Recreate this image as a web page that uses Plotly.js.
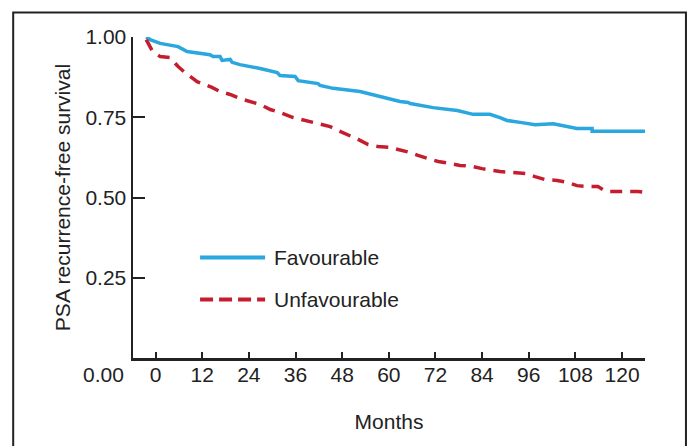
<!DOCTYPE html>
<html>
<head>
<meta charset="utf-8">
<script src="https://cdn.plot.ly/plotly-3.0.1.min.js"></script>
<style>html,body{margin:0;padding:0;background:#fff;}#chart{width:690px;height:446px;}</style>
</head>
<body>
<div id="chart"></div>
<script>
// Favourable group (months, PSA recurrence-free survival)
const favMonths = [-2.4, -1.4, 1.2, 5.8, 8.1, 14.0, 14.8, 16.6, 17.1, 19.2, 19.7, 21.7, 26.9, 31.3, 32.0, 35.9, 36.7, 41.8, 42.3, 45.7, 52.6, 57.7, 62.9, 65.0, 65.5, 71.4, 77.6, 81.7, 86.0, 88.6, 90.4, 93.8, 97.6, 102.3, 108.4, 112.3, 112.3, 125.9];
const favSurv   = [1.000, 0.992, 0.980, 0.970, 0.955, 0.945, 0.939, 0.939, 0.927, 0.930, 0.921, 0.914, 0.902, 0.889, 0.880, 0.877, 0.864, 0.855, 0.849, 0.840, 0.830, 0.815, 0.799, 0.796, 0.793, 0.780, 0.771, 0.759, 0.759, 0.749, 0.740, 0.734, 0.727, 0.730, 0.715, 0.715, 0.706, 0.706];
// Unfavourable group
const unfMonths = [-2.4, -0.9, 1.2, 3.7, 5.8, 7.6, 10.7, 14.5, 16.6, 19.2, 21.7, 24.3, 26.9, 29.5, 32.0, 35.4, 39.2, 41.8, 44.9, 46.9, 50.0, 52.1, 54.7, 57.2, 60.3, 62.4, 65.5, 67.5, 70.6, 72.7, 75.8, 78.3, 81.4, 84.0, 88.6, 92.5, 95.1, 97.6, 100.2, 103.3, 105.9, 108.4, 111.0, 113.8, 114.9, 115.9, 121.3, 124.1, 125.9];
const unfSurv   = [0.992, 0.958, 0.939, 0.936, 0.908, 0.889, 0.861, 0.843, 0.830, 0.821, 0.808, 0.799, 0.790, 0.774, 0.765, 0.749, 0.737, 0.731, 0.721, 0.709, 0.693, 0.681, 0.665, 0.659, 0.656, 0.650, 0.640, 0.631, 0.621, 0.612, 0.606, 0.600, 0.597, 0.590, 0.581, 0.578, 0.575, 0.565, 0.556, 0.553, 0.547, 0.537, 0.534, 0.534, 0.525, 0.519, 0.519, 0.519, 0.516];

const xTickVals = [0, 12, 24, 36, 48, 60, 72, 84, 96, 108, 120];
const yTickVals = [0.25, 0.50, 0.75, 1.00];
const yTickText = ['0.25', '0.50', '0.75', '1.00'];
const seriesNames = ['Favourable', 'Unfavourable'];

const BLUE = '#2aa7df', RED = '#c41e2e', INK = '#222222';
const FONT = 'Liberation Sans, Arial, sans-serif';
const FS = 21;

const traces = [
  {x: favMonths, y: favSurv, mode: 'lines', name: seriesNames[0], showlegend: false,
   line: {color: BLUE, width: 3.5}, cliponaxis: false, hoverinfo: 'skip'},
  {x: unfMonths, y: unfSurv, mode: 'lines', name: seriesNames[1], showlegend: false,
   line: {color: RED, width: 3.5, dash: '12px,8px'}, cliponaxis: false, hoverinfo: 'skip'}
];

const layout = {
  width: 690, height: 446,
  margin: {l: 133, r: 45, t: 37, b: 88},
  paper_bgcolor: '#fff', plot_bgcolor: '#fff',
  font: {family: FONT, size: FS, color: INK},
  xaxis: {
    range: [-5.8, 125.9], tickvals: xTickVals, ticktext: xTickVals.map(String),
    showgrid: false, zeroline: false, showline: true, linecolor: INK, linewidth: 2.5,
    ticks: 'inside', ticklen: 6, tickwidth: 2, tickcolor: INK,
    tickfont: {family: FONT, size: FS, color: INK}, ticklabelstandoff: -4,
    title: {text: 'Months', font: {family: FONT, size: FS, color: INK}, standoff: 30}
  },
  yaxis: {
    range: [0, 1], tickvals: yTickVals, ticktext: yTickText,
    showgrid: false, zeroline: false, showline: true, linecolor: INK, linewidth: 2.5,
    ticks: 'inside', ticklen: 12, tickwidth: 2, tickcolor: INK,
    tickfont: {family: FONT, size: FS, color: INK},
    title: {text: 'PSA recurrence-free survival', font: {family: FONT, size: FS, color: INK}, standoff: 9}
  },
  shapes: [
    {type: 'rect', xref: 'paper', yref: 'paper', x0: -0.234, x1: 1.080, y0: -0.34, y1: 1.076,
     line: {color: INK, width: 2}, fillcolor: 'rgba(0,0,0,0)', layer: 'below'},
    {type: 'line', xref: 'paper', yref: 'paper', x0: 0.131, x1: 0.258, y0: 0.313, y1: 0.313,
     line: {color: BLUE, width: 4}},
    {type: 'line', xref: 'paper', yref: 'paper', x0: 0.131, x1: 0.258, y0: 0.182, y1: 0.182,
     line: {color: RED, width: 4, dash: '13px,6px'}}
  ],
  annotations: [
    {xref: 'paper', yref: 'paper', x: 0.271, y: 0.313, xanchor: 'left', yanchor: 'middle',
     text: seriesNames[0], showarrow: false, font: {family: FONT, size: FS, color: INK}},
    {xref: 'paper', yref: 'paper', x: 0.271, y: 0.182, xanchor: 'left', yanchor: 'middle',
     text: seriesNames[1], showarrow: false, font: {family: FONT, size: FS, color: INK}},
    {xref: 'paper', yref: 'paper', x: -0.014, y: -0.051, xanchor: 'right', yanchor: 'middle',
     text: '0.00', showarrow: false, font: {family: FONT, size: FS, color: INK}}
  ]
};

Plotly.newPlot('chart', traces, layout, {staticPlot: true, displayModeBar: false});
</script>
</body>
</html>
